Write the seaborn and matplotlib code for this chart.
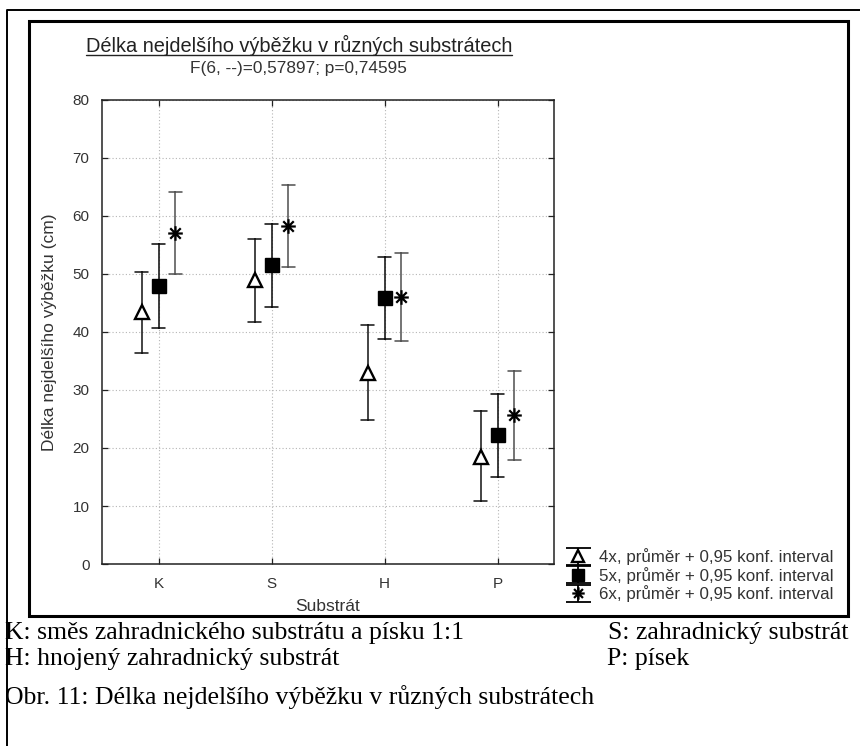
import numpy as np
import pandas as pd
import matplotlib
matplotlib.use("Agg")
import matplotlib.pyplot as plt
import seaborn as sns
from matplotlib.path import Path
from matplotlib.lines import Line2D
from matplotlib.patches import Rectangle
from matplotlib.collections import LineCollection
from matplotlib.container import ErrorbarContainer
from matplotlib.legend_handler import HandlerErrorbar

# ---------------- data ----------------
substrates = ["K", "S", "H", "P"]
series = ["4x", "5x", "6x"]
mean_4x = [43.4, 49.0, 32.9, 18.5]
low_4x = [36.3, 41.8, 24.8, 10.9]
up_4x = [50.4, 56.1, 41.2, 26.3]
mean_5x = [47.9, 51.6, 45.9, 22.2]
low_5x = [40.7, 44.3, 38.8, 15.0]
up_5x = [55.1, 58.7, 53.0, 29.3]
mean_6x = [57.0, 58.3, 46.0, 25.7]
low_6x = [50.0, 51.2, 38.4, 18.0]
up_6x = [64.1, 65.4, 53.7, 33.3]
legend_labels = ["4x, průměr + 0,95 konf. interval",
                 "5x, průměr + 0,95 konf. interval",
                 "6x, průměr + 0,95 konf. interval"]
y_ticks = [0, 10, 20, 30, 40, 50, 60, 70, 80]
title = "Délka nejdelšího výběžku v různých substrátech"
subtitle = "F(6, --)=0,57897; p=0,74595"
xlabel = "Substrát"
ylabel = "Délka nejdelšího výběžku (cm)"
caption_k = "K: směs zahradnického substrátu a písku 1:1"
caption_s = "S: zahradnický substrát"
caption_h = "H: hnojený zahradnický substrát"
caption_p = "P: písek"
caption_fig = "Obr. 11: Délka nejdelšího výběžku v různých substrátech"

rows = []
for name, m, lo, up in [("4x", mean_4x, low_4x, up_4x),
                        ("5x", mean_5x, low_5x, up_5x),
                        ("6x", mean_6x, low_6x, up_6x)]:
    for s, a, b, c in zip(substrates, lo, m, up):
        for v in (a, b, c):
            rows.append({"Substrát": s, "série": name, "value": v})
df = pd.DataFrame(rows)

# ---------------- style ----------------
sns.set_style("white")
plt.rcParams["font.family"] = ["Liberation Sans", "DejaVu Sans"]
TXT = "#333333"

W, H = 860, 746
fig = plt.figure(figsize=(W / 100, H / 100), dpi=100)


def fx(x):
    return x / W


def fy(y):
    return 1 - y / H


ax_l, ax_r, ax_t, ax_b = 102, 554, 100, 564
ax = fig.add_axes([fx(ax_l), fy(ax_b), fx(ax_r - ax_l), (ax_b - ax_t) / H])

star = Path([(-1, 0), (1, 0), (0, -1), (0, 1),
             (-0.72, -0.72), (0.72, 0.72), (-0.72, 0.72), (0.72, -0.72)],
            [Path.MOVETO, Path.LINETO] * 4)

err_colors = ["#1a1a1a", "#111111", "#555555"]

sns.pointplot(data=df, x="Substrát", y="value", hue="série",
              order=substrates, hue_order=series,
              estimator=np.median,
              errorbar=lambda v: (v.min(), v.max()),
              dodge=0.3, markers=["^", "s", star], linestyle="none",
              palette=err_colors, capsize=0.11,
              err_kws={"linewidth": 1.15}, legend=False, ax=ax)

marker_lines = [l for l in ax.lines if l.get_marker() not in ("None", "none", "", None)]
styles = [dict(mfc="white", mec="black", ms=10.5, mew=1.7),
          dict(mfc="black", mec="black", ms=9.5, mew=1.0),
          dict(mfc="none", mec="black", ms=10.5, mew=1.6)]
for l, st in zip(marker_lines, styles):
    l.set_markerfacecolor(st["mfc"])
    l.set_markeredgecolor(st["mec"])
    l.set_markersize(st["ms"])
    l.set_markeredgewidth(st["mew"])
    l.set_zorder(5)

ax.set_xlim(-0.5, 3.5)
ax.set_ylim(0, 80)
ax.set_yticks(y_ticks)
ax.grid(True, color="#b5b5b5", linestyle=(0, (1, 2)), linewidth=0.8)
for sp in ax.spines.values():
    sp.set_visible(True)
    sp.set_color("#222222")
    sp.set_linewidth(1.1)
ax.tick_params(axis="both", direction="in", length=4, width=0.9, colors="#222222",
               labelcolor=TXT, labelsize=11, top=True, right=True,
               left=True, bottom=True)
ax.tick_params(axis="y", pad=9)
ax.tick_params(axis="x", pad=9)
ax.set_xlabel(xlabel, fontsize=12.5, color=TXT, labelpad=6)
ax.set_ylabel(ylabel, fontsize=12.5, color=TXT, labelpad=11)

# ---------------- legend ----------------
handles = []
for st, ec, mk in zip(styles, err_colors, ["^", "s", star]):
    pl = Line2D([], [], marker=mk, linestyle="none", mfc=st["mfc"], mec=st["mec"],
                ms=st["ms"] * 0.85, mew=st["mew"])
    cap = Line2D([], [], marker="_", linestyle="none", ms=18, mec="black", mew=1.3)
    bar = LineCollection([], colors="black", linewidths=1.3)
    handles.append(ErrorbarContainer((pl, (cap, cap), (bar,)), has_xerr=False, has_yerr=True))
leg = ax.legend(handles, legend_labels, loc="lower left",
                bbox_to_anchor=(fx(565), fy(602)), bbox_transform=fig.transFigure,
                frameon=False, fontsize=12.2, borderpad=0, borderaxespad=0,
                handlelength=1.5, handletextpad=0.5, labelspacing=0.08,
                handler_map={ErrorbarContainer: HandlerErrorbar(yerr_size=0.5)})
for t in leg.get_texts():
    t.set_color(TXT)

# ---------------- texts ----------------
t_title = fig.text(fx(299), fy(45), title, ha="center", va="center",
                   fontsize=13.5, color="#222222")
t_sub = fig.text(fx(298), fy(69), subtitle, ha="center", va="center",
                 fontsize=11, color=TXT)

serif = ["Liberation Serif", "DejaVu Serif"]
cap_fs = 18.5
fig.text(fx(5), fy(633), caption_k, ha="left", va="center", fontsize=cap_fs,
         family=serif, color="black")
fig.text(fx(849), fy(633), caption_s, ha="right", va="center", fontsize=cap_fs,
         family=serif, color="black")
fig.text(fx(5), fy(659), caption_h, ha="left", va="center", fontsize=cap_fs,
         family=serif, color="black")
fig.text(fx(607), fy(659), caption_p, ha="left", va="center", fontsize=cap_fs,
         family=serif, color="black")
fig.text(fx(5), fy(697), caption_fig, ha="left", va="center", fontsize=cap_fs,
         family=serif, color="black")

# fit title widths
fig.canvas.draw()
r = fig.canvas.get_renderer()
for t, target in [(t_title, 428), (t_sub, 217)]:
    for _ in range(3):
        w = t.get_window_extent(r).width
        t.set_fontsize(t.get_fontsize() * target / w)
        fig.canvas.draw()

bb = t_title.get_window_extent(r)
fig.add_artist(Line2D([bb.x0 / W, bb.x1 / W], [fy(55), fy(55)], color="#222222",
                      linewidth=1.0, transform=fig.transFigure))

# ---------------- frames ----------------
fig.add_artist(Line2D([fx(7), fx(7), 1.0], [0.0, fy(10), fy(10)], color="black",
                      linewidth=1.4, transform=fig.transFigure))
fig.add_artist(Rectangle((fx(29), fy(616)), fx(848 - 29), (616 - 21) / H,
                         fill=False, edgecolor="black", linewidth=2.2,
                         transform=fig.transFigure))

fig.savefig("out.png", dpi=100)
